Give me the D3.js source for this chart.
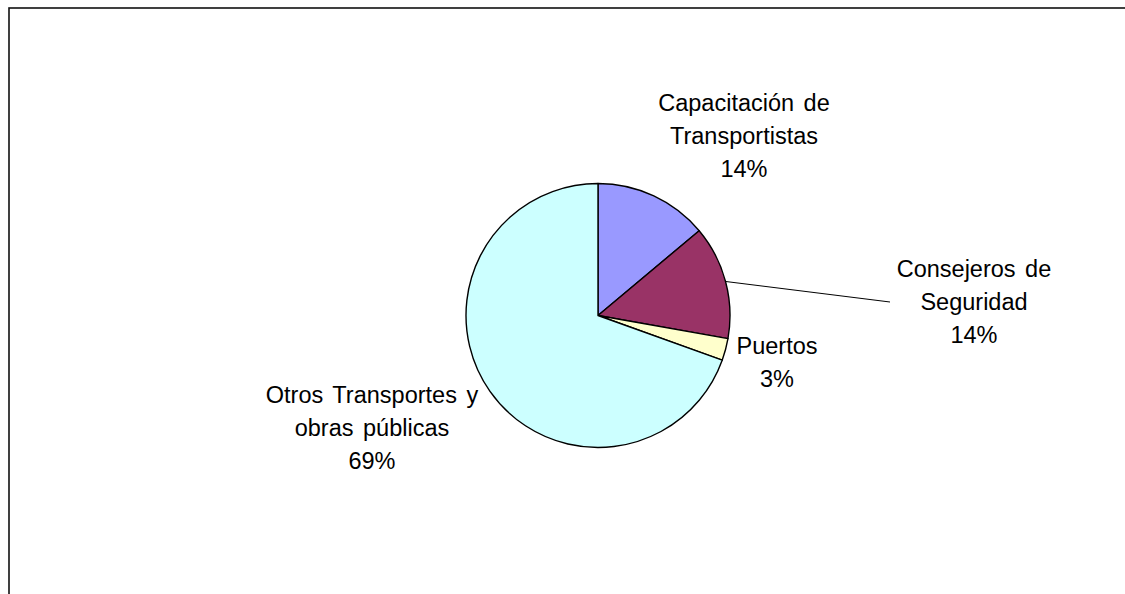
<!DOCTYPE html>
<html><head><meta charset="utf-8">
<script src="https://cdn.jsdelivr.net/npm/d3@7"></script>
<style>html,body{margin:0;padding:0;background:#fff;overflow:hidden}</style>
</head><body>
<svg id="chart" width="1125" height="594"></svg>
<script>
const categories = ["Capacitación de Transportistas", "Consejeros de Seguridad", "Puertos", "Otros Transportes y obras públicas"];
const values = [13.9, 13.9, 2.7, 69.5];
const percentLabels = ["14%", "14%", "3%", "69%"];
const labelLines = [["Capacitación de", "Transportistas"], ["Consejeros de", "Seguridad"], ["Puertos"], ["Otros Transportes y", "obras públicas"]];
const colors = ["#9999FF", "#993366", "#FFFFCC", "#CCFFFF"];

const svg = d3.select("#chart");
svg.append("rect").attr("x", 9).attr("y", 8).attr("width", 1400).attr("height", 900)
  .attr("fill", "#fff").attr("stroke", "#111").attr("stroke-width", 1.6);

const cx = 598, cy = 315.5, r = 132;
const pie = d3.pie().sort(null).value(d => d)(values);
const arc = d3.arc().innerRadius(0).outerRadius(r);
const g = svg.append("g").attr("transform", `translate(${cx},${cy})`);
g.selectAll("path").data(pie).enter().append("path")
  .attr("d", arc).attr("fill", (d, i) => colors[i])
  .attr("stroke", "#000").attr("stroke-width", 1.4).attr("stroke-linejoin", "round");

// label anchor positions (centre x, first baseline y)
const labelPos = [[744, 111], [974, 277], [777, 354], [372, 403]];
const lh = 33;
labelLines.forEach((lines, i) => {
  const all = lines.concat([percentLabels[i]]);
  const t = svg.append("text").attr("text-anchor", "middle")
    .attr("font-family", "Liberation Sans, Arial, sans-serif").attr("font-size", 23.5)
    .attr("word-spacing", 3).attr("fill", "#000");
  all.forEach((s, k) => t.append("tspan").attr("x", labelPos[i][0]).attr("y", labelPos[i][1] + k * lh).text(s));
});

// leader line for Consejeros de Seguridad
const c = d3.arc().innerRadius(r).outerRadius(r).centroid(pie[1]);
svg.append("path").attr("d", d3.line()([[cx + c[0], cy + c[1]], [890, 302]]))
  .attr("stroke", "#000").attr("stroke-width", 1).attr("fill", "none");
</script>
</body></html>
